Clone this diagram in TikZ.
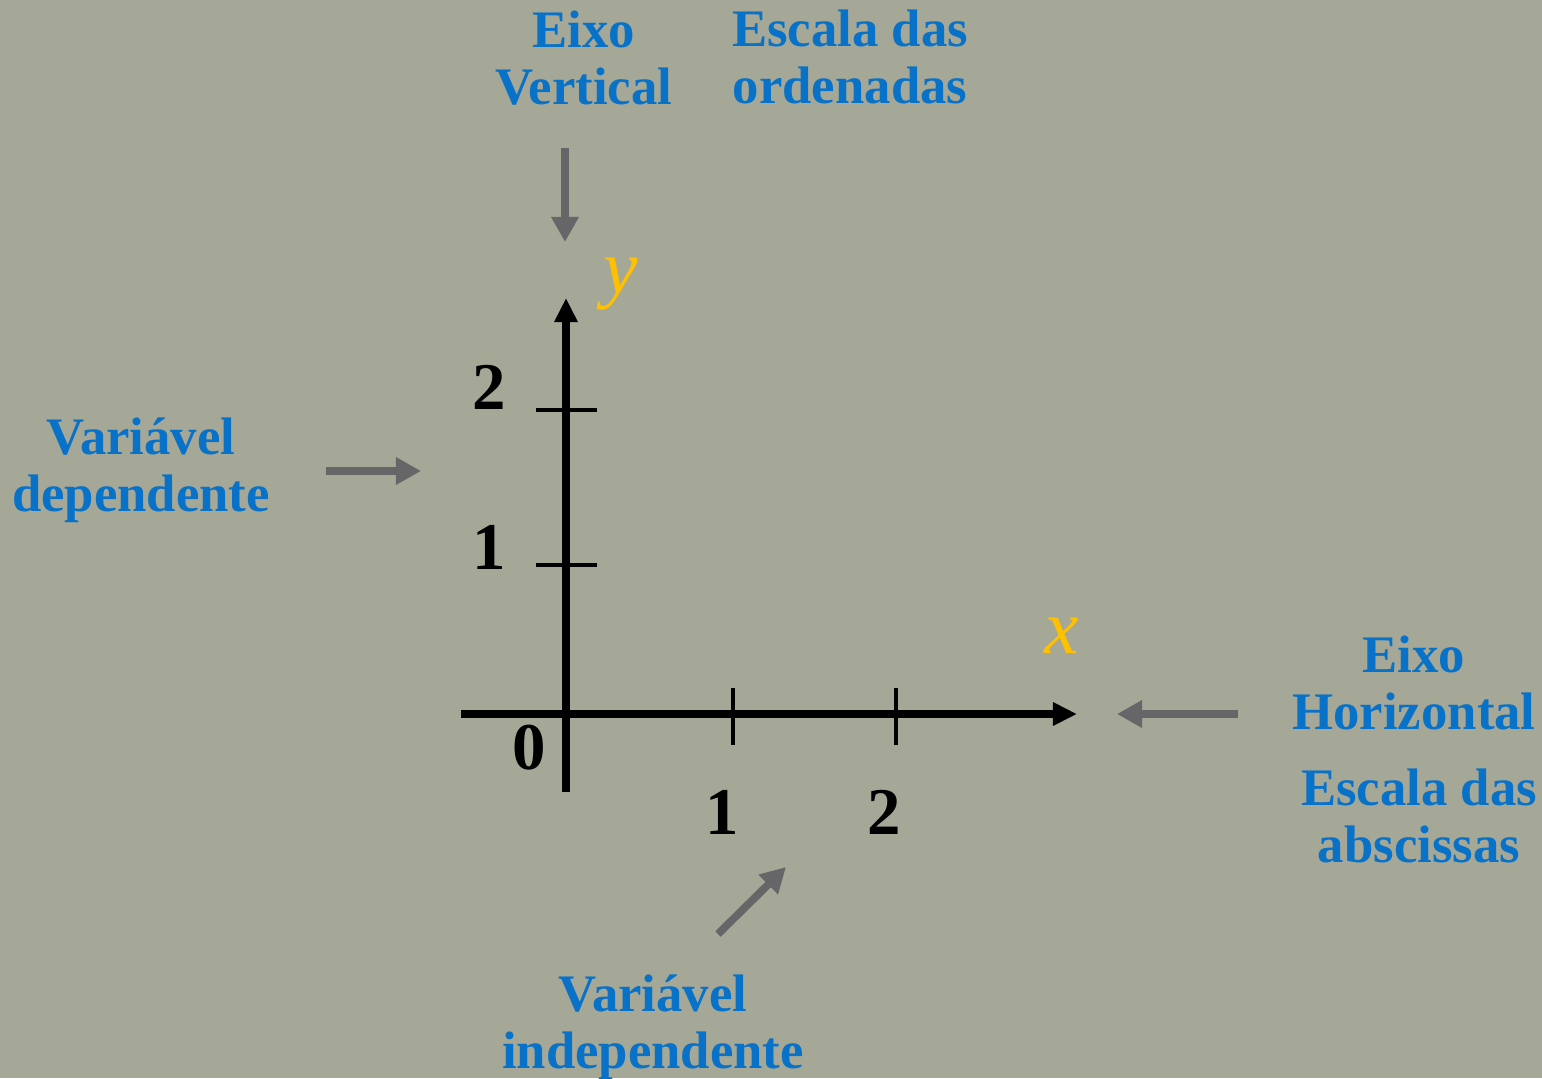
\documentclass[tikz,border=0pt]{standalone}
\usepackage{fontspec}
\setmainfont{Liberation Serif}
\usetikzlibrary{arrows.meta}
\definecolor{bgcol}{RGB}{166,168,151}
\definecolor{notecol}{RGB}{8,114,200}
\definecolor{pointcol}{RGB}{102,102,104}
\definecolor{varcol}{RGB}{255,192,0}
\begin{document}
\begin{tikzpicture}[
        x=0.01cm, y=-0.01cm,
        note/.style={text=notecol, align=center, font=\fontsize{15}{16.3}\selectfont\bfseries},
        num/.style={font=\fontsize{19}{20}\selectfont\bfseries},
        var/.style={text=varcol, font=\fontsize{22}{24}\selectfont\itshape},
        axis/.style={line width=2.1pt, -{Triangle[length=0.24cm,width=0.22cm]}},
        tick/.style={line width=0.9pt},
        pointer/.style={pointcol, line width=2.2pt, -{Triangle[length=0.25cm,width=0.26cm]}}
    ]
        \useasboundingbox (0,0) rectangle (1542,1078);
        \fill[bgcol] (0,0) rectangle (1542,1078);
        % axes
        \coordinate (O) at (566,714);
        \coordinate (xstart) at (461,714);
        \coordinate (xend) at (1077,714);
        \coordinate (ystart) at (566,792);
        \coordinate (yend) at (566,298);
        \draw[axis] (xstart) -- (xend);
        \draw[axis] (ystart) -- (yend);
        \foreach \x in {733,896}
            \draw[tick] (\x,688) -- (\x,745);
        \foreach \y in {410,565}
            \draw[tick] (536,\y) -- (597,\y);
        \node[num] (n0) at (529,748) {0};
        \node[num] (nx1) at (722,812) {1};
        \node[num] (nx2) at (884,812) {2};
        \node[num] (ny1) at (489,547) {1};
        \node[num] (ny2) at (489,387) {2};
        \node[var] (ylab) at (621,284) {y};
        \node[var] (xlab) at (1062,636) {x};
        % notes
        \node[note] (vert) at (584,58) {Eixo\\Vertical};
        \node[note] (ord) at (850,57) {Escala das\\ordenadas};
        \node[note] (dep) at (141,470) {Variável\\dependente};
        \node[note] (hor) at (1414,683) {Eixo\\Horizontal};
        \node[note] (absc) at (1419,816) {Escala das\\abscissas};
        \node[note] (indep) at (653,1027) {Variável\\independente};
        % pointers
        \coordinate (p1a) at (565,148);
        \coordinate (p1b) at (565,242);
        \coordinate (p2a) at (326,471);
        \coordinate (p2b) at (421,471);
        \coordinate (p3a) at (1238,714);
        \coordinate (p3b) at (1117,714);
        \coordinate (p4a) at (718,934);
        \coordinate (p4b) at (786,867);
        \draw[pointer] (p1a) -- (p1b);
        \draw[pointer] (p2a) -- (p2b);
        \draw[pointer] (p3a) -- (p3b);
        \draw[pointer] (p4a) -- (p4b);
    \end{tikzpicture}
\end{document}
